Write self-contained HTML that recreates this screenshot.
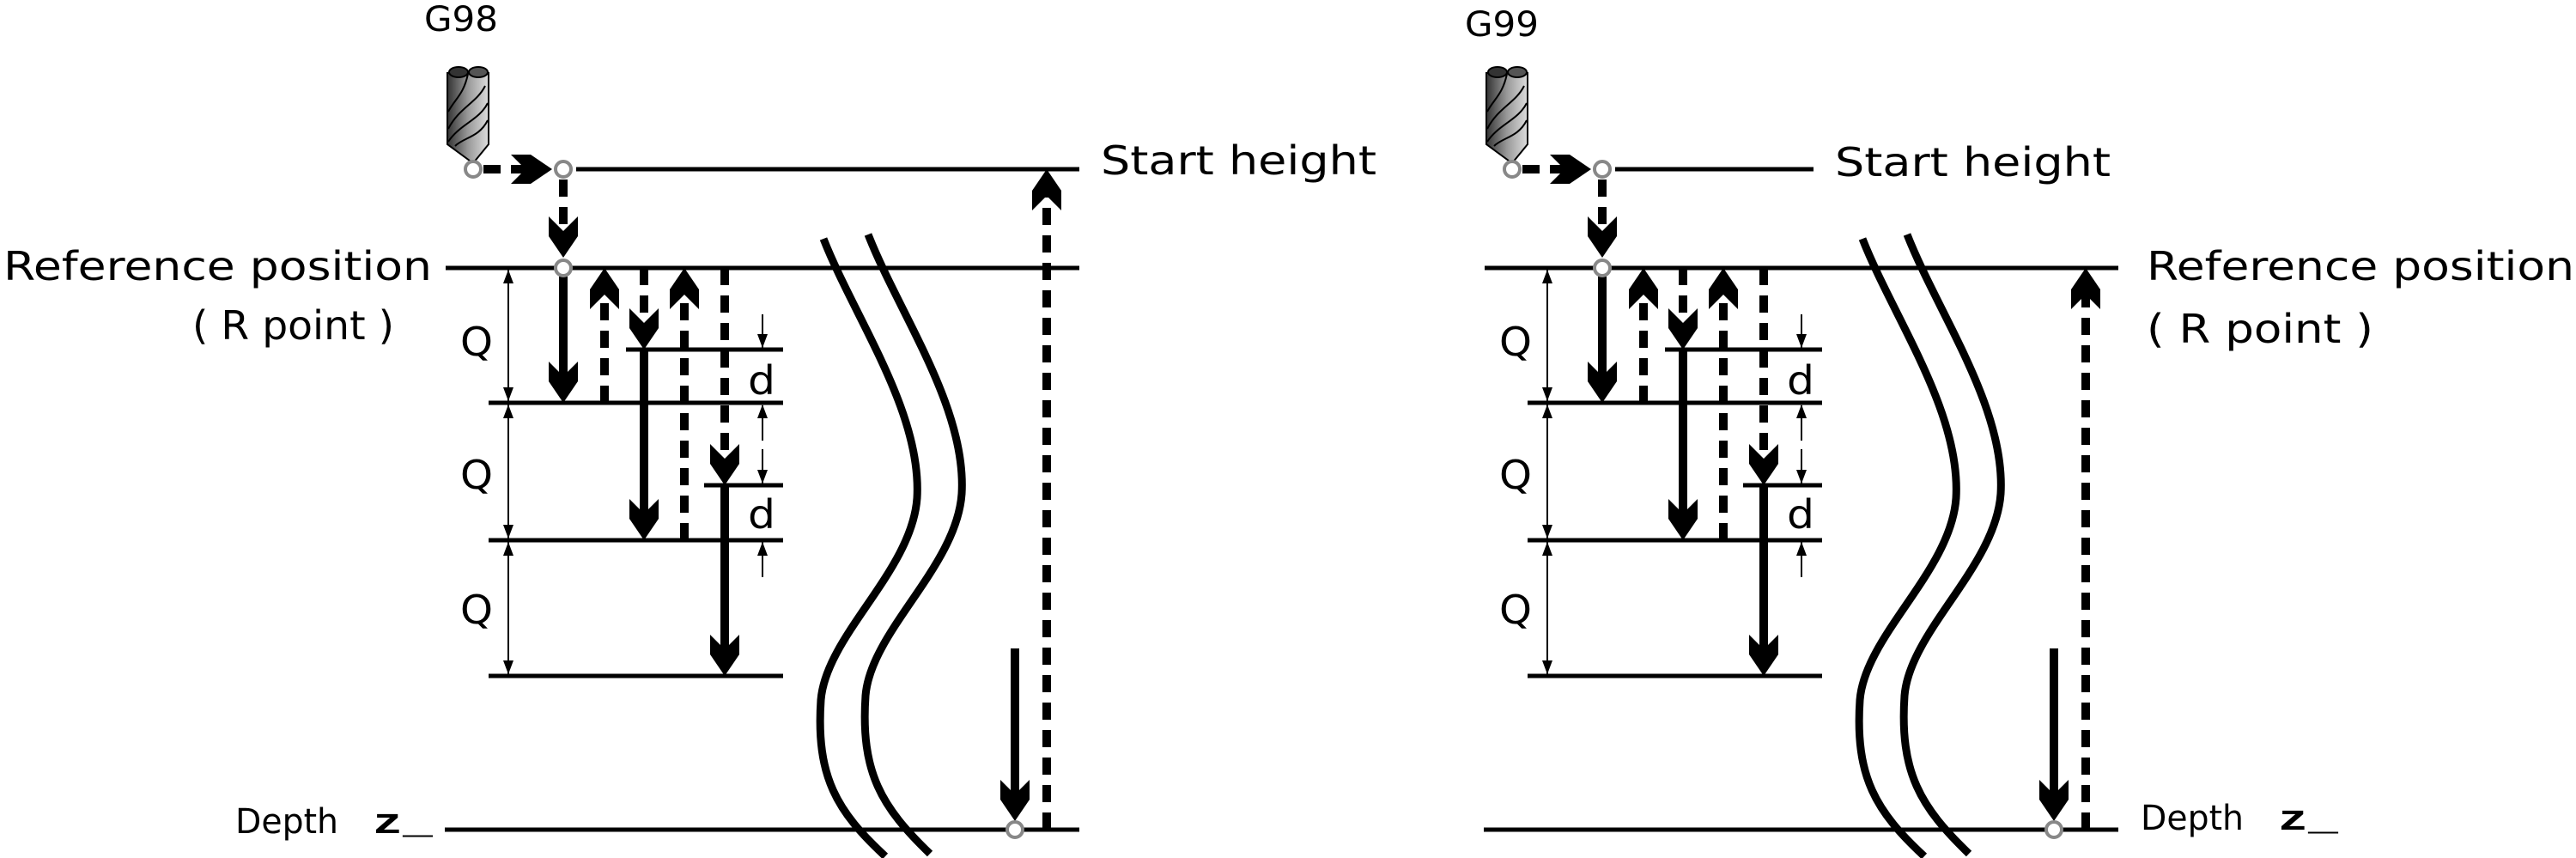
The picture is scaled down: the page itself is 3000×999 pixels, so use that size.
<!DOCTYPE html>
<html><head><meta charset="utf-8"><style>
html,body{margin:0;padding:0;background:#fff;}
svg{display:block;}
text{font-family:"DejaVu Sans","Liberation Sans",sans-serif;fill:#000;}
</style></head><body>
<svg width="3000" height="999" viewBox="0 0 3000 999" xmlns="http://www.w3.org/2000/svg">
<defs>
<path id="ah" d="M0,0 L-17,-25 L-17,-48 L0,-31 L17,-48 L17,-25 Z" fill="#000"/>
<path id="sa" d="M0,0 L-6,-16 L6,-16 Z" fill="#000"/>
<linearGradient id="tg" x1="0" x2="1" y1="0" y2="0">
<stop offset="0" stop-color="#333"/><stop offset="0.5" stop-color="#999"/><stop offset="1" stop-color="#ddd"/>
</linearGradient>
<g id="common">
<path d="M521,85 L569,85 L569,168 L551,190 L521,168 Z" fill="url(#tg)" stroke="#000" stroke-width="2"/>
<ellipse cx="534" cy="84" rx="11" ry="6" fill="#333" stroke="#000" stroke-width="2"/>
<ellipse cx="557" cy="84" rx="11" ry="6" fill="#555" stroke="#000" stroke-width="2"/>
<path d="M545,86 C540,110 530,115 522,130 M565,100 C555,120 535,125 522,150 M568,120 C558,140 535,145 522,165 M568,140 C558,160 540,160 530,170" fill="none" stroke="#000" stroke-width="2"/>
<g stroke="#000" stroke-width="5">
<line x1="519" y1="312" x2="1257" y2="312"/>
<line x1="518" y1="966" x2="1257" y2="966"/>
<line x1="569" y1="469" x2="912" y2="469"/>
<line x1="569" y1="629" x2="912" y2="629"/>
<line x1="569" y1="787" x2="912" y2="787"/>
<line x1="729" y1="407" x2="912" y2="407"/>
<line x1="820" y1="565" x2="912" y2="565"/>
</g>
<path d="M959,278 C995,370 1074,480 1068,580 C1062,665 962,740 956,815 C950,905 975,945 1031,997" fill="none" stroke="#000" stroke-width="9"/>
<path d="M1011,273 C1047,365 1126,475 1120,575 C1114,660 1014,735 1008,810 C1002,900 1027,940 1083,994" fill="none" stroke="#000" stroke-width="9"/>
<g stroke="#000" stroke-width="2">
<line x1="592" y1="314" x2="592" y2="785"/>
<line x1="888" y1="366" x2="888" y2="405"/>
<line x1="888" y1="472" x2="888" y2="513"/>
<line x1="888" y1="523" x2="888" y2="563"/>
<line x1="888" y1="631" x2="888" y2="672"/>
</g>
<use href="#sa" transform="translate(592,314) rotate(180)"/>
<use href="#sa" transform="translate(592,467)"/>
<use href="#sa" transform="translate(592,471) rotate(180)"/>
<use href="#sa" transform="translate(592,627)"/>
<use href="#sa" transform="translate(592,631) rotate(180)"/>
<use href="#sa" transform="translate(592,785)"/>
<use href="#sa" transform="translate(888,405)"/>
<use href="#sa" transform="translate(888,471) rotate(180)"/>
<use href="#sa" transform="translate(888,563)"/>
<use href="#sa" transform="translate(888,631) rotate(180)"/>
<g stroke="#000" stroke-width="10" fill="none">
<line x1="563" y1="197" x2="625" y2="197" stroke-dasharray="20 12"/>
<line x1="656" y1="209" x2="656" y2="272" stroke-dasharray="20 12"/>
<line x1="656" y1="322" x2="656" y2="442"/>
<line x1="704" y1="469" x2="704" y2="338" stroke-dasharray="20 12"/>
<line x1="750" y1="312" x2="750" y2="380" stroke-dasharray="20 12"/>
<line x1="750" y1="407" x2="750" y2="602"/>
<line x1="797" y1="629" x2="797" y2="338" stroke-dasharray="20 12"/>
<line x1="844" y1="312" x2="844" y2="540" stroke-dasharray="20 12"/>
<line x1="844" y1="565" x2="844" y2="760"/>
<line x1="1182" y1="755" x2="1182" y2="930"/>
</g>
<use href="#ah" transform="translate(643,197) rotate(-90)"/>
<use href="#ah" transform="translate(656,300)"/>
<use href="#ah" transform="translate(656,469)"/>
<use href="#ah" transform="translate(704,312) rotate(180)"/>
<use href="#ah" transform="translate(750,407)"/>
<use href="#ah" transform="translate(750,629)"/>
<use href="#ah" transform="translate(797,312) rotate(180)"/>
<use href="#ah" transform="translate(844,565)"/>
<use href="#ah" transform="translate(844,787)"/>
<use href="#ah" transform="translate(1182,956)"/>
<g fill="#fff" stroke="#888" stroke-width="4">
<circle cx="551" cy="197" r="9"/>
<circle cx="656" cy="197" r="9"/>
<circle cx="656" cy="312" r="9"/>
<circle cx="1182" cy="966" r="9"/>
</g>
<text x="536" y="414" font-size="46" textLength="38" lengthAdjust="spacingAndGlyphs">Q</text>
<text x="536" y="569" font-size="46" textLength="38" lengthAdjust="spacingAndGlyphs">Q</text>
<text x="536" y="726" font-size="46" textLength="38" lengthAdjust="spacingAndGlyphs">Q</text>
<text x="871" y="459" font-size="46" textLength="32" lengthAdjust="spacingAndGlyphs">d</text>
<text x="871" y="615" font-size="46" textLength="32" lengthAdjust="spacingAndGlyphs">d</text>
</g>
</defs>

<use href="#common"/>
<use href="#common" transform="translate(1210,0)"/>

<line x1="671" y1="197" x2="1257" y2="197" stroke="#000" stroke-width="5"/>
<line x1="1219" y1="966" x2="1219" y2="225" stroke="#000" stroke-width="10" stroke-dasharray="20 12"/>
<use href="#ah" transform="translate(1219,197) rotate(180)"/>
<text x="494" y="36" font-size="40" textLength="86" lengthAdjust="spacingAndGlyphs">G98</text>
<text x="1282" y="203" font-size="46" textLength="321" lengthAdjust="spacingAndGlyphs">Start height</text>
<text x="4" y="326" font-size="46" textLength="499" lengthAdjust="spacingAndGlyphs">Reference position</text>
<text x="224" y="395" font-size="46" textLength="235" lengthAdjust="spacingAndGlyphs">( R point )</text>
<text x="274" y="970" font-size="40" textLength="120" lengthAdjust="spacingAndGlyphs">Depth</text>
<text x="434" y="970" font-size="42" font-weight="bold" style="font-family:'Liberation Mono','DejaVu Sans Mono',monospace" textLength="70" lengthAdjust="spacingAndGlyphs">z_</text>

<line x1="1881" y1="197" x2="2112" y2="197" stroke="#000" stroke-width="5"/>
<line x1="2429" y1="966" x2="2429" y2="340" stroke="#000" stroke-width="10" stroke-dasharray="20 12"/>
<use href="#ah" transform="translate(2429,312) rotate(180)"/>
<text x="1706" y="42" font-size="40" textLength="86" lengthAdjust="spacingAndGlyphs">G99</text>
<text x="2137" y="205" font-size="46" textLength="321" lengthAdjust="spacingAndGlyphs">Start height</text>
<text x="2500" y="326" font-size="46" textLength="498" lengthAdjust="spacingAndGlyphs">Reference position</text>
<text x="2500" y="399" font-size="46" textLength="264" lengthAdjust="spacingAndGlyphs">( R point )</text>
<text x="2493" y="966" font-size="40" textLength="120" lengthAdjust="spacingAndGlyphs">Depth</text>
<text x="2653" y="966" font-size="42" font-weight="bold" style="font-family:'Liberation Mono','DejaVu Sans Mono',monospace" textLength="70" lengthAdjust="spacingAndGlyphs">z_</text>
</svg>
</body></html>
